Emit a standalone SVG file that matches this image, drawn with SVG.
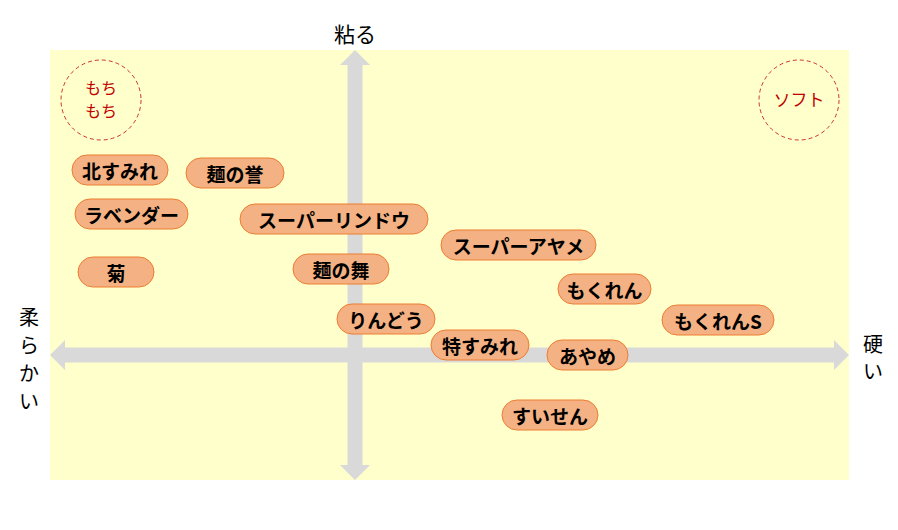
<svg xmlns="http://www.w3.org/2000/svg" width="898" height="530" viewBox="0 0 898 530">
<style>
.pill rect{fill:#f4b183;stroke:#ed7d31;stroke-width:1}
.pill text{font-family:"Noto Sans CJK JP",sans-serif;font-size:19px;font-weight:bold;fill:#000;text-anchor:middle;dominant-baseline:central}
.axis{font-family:"Noto Sans CJK JP",sans-serif;font-size:20px;fill:#000;text-anchor:middle;dominant-baseline:central}
.zone circle{fill:none;stroke:#c00000;stroke-width:1;stroke-dasharray:4 3;opacity:0.8}
.zone text{font-family:"Noto Sans CJK JP",sans-serif;font-size:17px;fill:#c00000;text-anchor:middle;dominant-baseline:central}
.arr{fill:#d9d9d9}
</style>
<rect x="0" y="0" width="898" height="530" fill="#ffffff"/>
<rect id="plane" x="50" y="50" width="799" height="430" fill="#ffffcc"/>
<g id="connectors">
<polygon class="arr" points="50,355 65,340 65,347.5 834,347.5 834,340 849,355 834,370 834,362.5 65,362.5 65,370"/>
<polygon class="arr" points="355,50 370,65 362.5,65 362.5,465 370,465 355,480 340,465 347.5,465 347.5,65 340,65"/>
</g>
<g id="axis-labels">
<text class="axis" x="355" y="33" style="font-size:21px">粘る</text>
<text class="axis" x="29" y="316">柔</text>
<text class="axis" x="29" y="344">ら</text>
<text class="axis" x="29" y="372">か</text>
<text class="axis" x="29" y="400">い</text>
<text class="axis" x="873" y="343">硬</text>
<text class="axis" x="873" y="370">い</text>
</g>
<g id="zone-mochi" class="zone">
<circle cx="101" cy="100" r="40"/>
<text x="101" y="87" style="font-size:16px">もち</text>
<text x="101" y="110" style="font-size:16px">もち</text>
</g>
<g id="zone-soft" class="zone">
<circle cx="799" cy="100" r="40"/>
<text x="799" y="98">ソフト</text>
</g>
<g id="n-kitasumire" class="pill"><rect x="72" y="155" width="96" height="30" rx="15"/><text x="120" y="170">北すみれ</text></g>
<g id="n-mennohomare" class="pill"><rect x="186" y="158" width="98" height="30" rx="15"/><text x="235" y="173">麺の誉</text></g>
<g id="n-lavender" class="pill"><rect x="75" y="199" width="113" height="30" rx="15"/><text x="131.5" y="214">ラベンダー</text></g>
<g id="n-superrindou" class="pill"><rect x="240" y="204" width="188" height="30" rx="15"/><text x="334" y="219">スーパーリンドウ</text></g>
<g id="n-kiku" class="pill"><rect x="78" y="257" width="76" height="30" rx="15"/><text x="116" y="272">菊</text></g>
<g id="n-mennomai" class="pill"><rect x="293" y="254" width="96" height="30" rx="15"/><text x="341" y="269">麺の舞</text></g>
<g id="n-superayame" class="pill"><rect x="441" y="230" width="155" height="30" rx="15"/><text x="518.5" y="245">スーパーアヤメ</text></g>
<g id="n-mokuren" class="pill"><rect x="558" y="274" width="93" height="30" rx="15"/><text x="604.5" y="289">もくれん</text></g>
<g id="n-rindou" class="pill"><rect x="337" y="304" width="98" height="30" rx="15"/><text x="386" y="319">りんどう</text></g>
<g id="n-mokurens" class="pill"><rect x="662" y="305" width="112" height="30" rx="15"/><text x="718" y="320">もくれんS</text></g>
<g id="n-tokusumire" class="pill"><rect x="431" y="330" width="98" height="30" rx="15"/><text x="480" y="345">特すみれ</text></g>
<g id="n-ayame" class="pill"><rect x="547" y="340" width="81" height="30" rx="15"/><text x="587.5" y="355">あやめ</text></g>
<g id="n-suisen" class="pill"><rect x="502" y="400" width="96" height="30" rx="15"/><text x="550" y="415">すいせん</text></g>
</svg>
